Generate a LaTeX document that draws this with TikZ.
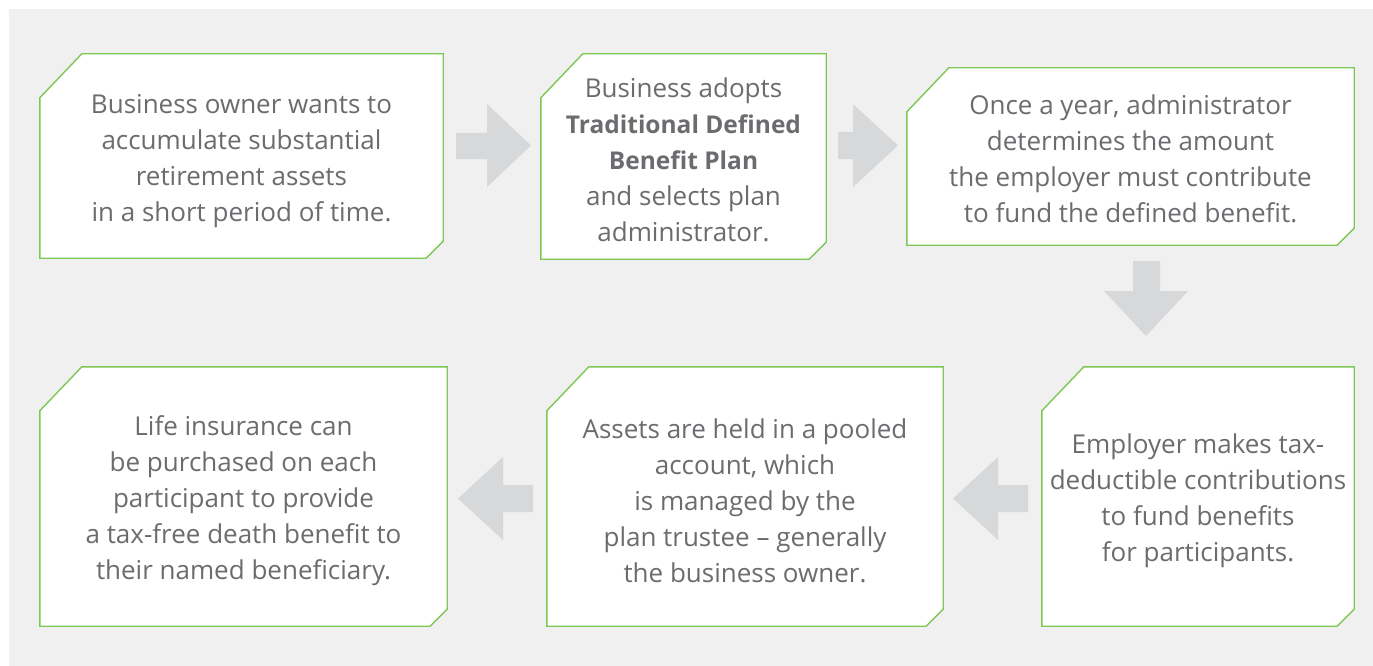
\documentclass[tikz,border=0pt]{standalone}
\usepackage{fontspec}
\setmainfont{Open Sans}
\definecolor{panel}{HTML}{F0F0F0}
\definecolor{edge}{HTML}{7DC855}
\definecolor{ink}{HTML}{6B6C6F}
\definecolor{arrowgray}{HTML}{D7D8DA}

% chamfered outline around a named box: large cut top-left, small cut bottom-right
\newcommand\chamferedoutline[1]{%
  \draw[boxline] ([yshift=-44pt]#1.north west) -- ([xshift=42pt]#1.north west)
    -- (#1.north east) -- ([yshift=17pt]#1.south east)
    -- ([xshift=-17pt]#1.south east) -- (#1.south west) -- cycle;}
\newcommand\planname[1]{{\fontsize{24.5}{36}\selectfont\bfseries #1}}

\tikzset{
  stepbox/.style={inner sep=0pt, align=center, text=ink,
    font=\fontsize{26}{36}\selectfont},
  boxline/.style={draw=edge, fill=white, line width=1.4pt, line join=miter},
  blockarrow/.style={fill=arrowgray, draw=none},
}

\begin{document}
\begin{tikzpicture}[x=1pt, y=-1pt]
  \useasboundingbox (0,0) rectangle (1373,666);
  \fill[panel] (9,9) rectangle (1373,666);

  % box frames
  \node[stepbox, minimum width=403pt, minimum height=204pt] (own) at (241.5,156) {};
  \node[stepbox, minimum width=285pt, minimum height=205pt] (adopt) at (683.5,156.5) {};
  \node[stepbox, minimum width=447pt, minimum height=177pt] (year) at (1130.5,156.5) {};
  \node[stepbox, minimum width=312pt, minimum height=259pt] (contrib) at (1198,496.5) {};
  \node[stepbox, minimum width=396pt, minimum height=259pt] (pool) at (745,496.5) {};
  \node[stepbox, minimum width=407pt, minimum height=259pt] (life) at (243.5,496.5) {};

  \chamferedoutline{own}
  \chamferedoutline{adopt}
  \chamferedoutline{year}
  \chamferedoutline{contrib}
  \chamferedoutline{pool}
  \chamferedoutline{life}

  % texts
  \node[stepbox] (owntext) at ([yshift=-5pt]own.center) {Business owner wants to\\accumulate substantial\\retirement assets\\in a short period of time.};
  \node[stepbox] (adopttext) at ([yshift=-3pt]adopt.center) {Business adopts\\\planname{Traditional Defined}\\\planname{Benefit Plan}\\and selects plan\\administrator.};
  \node[stepbox] (yeartext) at ([yshift=-2pt]year.center) {Once a year, administrator\\determines the amount\\the employer must contribute\\to fund the defined benefit.};
  \node[stepbox] (contribtext) at ([yshift=-4pt]contrib.center) {Employer makes tax-\\deductible contributions\\to fund benefits\\for participants.};
  \node[stepbox] (pooltext) at ([yshift=-4pt]pool.center) {Assets are held in a pooled\\account, which\\is managed by the\\plan trustee -- generally\\the business owner.};
  \node[stepbox] (lifetext) at ([yshift=-4pt]life.center) {Life insurance can\\be purchased on each\\participant to provide\\a tax-free death benefit to\\their named beneficiary.};

  % block arrows between the steps
  \fill[blockarrow] (456,133) -- (487,133) -- (487,104) -- (531,145.5) -- (487,187) -- (487,159) -- (456,159) -- cycle;
  \fill[blockarrow] (838,132) -- (853,132) -- (853,104) -- (898,145.5) -- (853,187) -- (853,159) -- (838,159) -- cycle;
  \fill[blockarrow] (1133,261) -- (1160,261) -- (1160,291) -- (1188,291) -- (1146,336) -- (1104,291) -- (1133,291) -- cycle;
  \fill[blockarrow] (1028,485) -- (998,485) -- (998,457) -- (953,498.5) -- (998,540) -- (998,512) -- (1028,512) -- cycle;
  \fill[blockarrow] (533,485) -- (503,485) -- (503,457) -- (458,498.5) -- (503,540) -- (503,512) -- (533,512) -- cycle;
\end{tikzpicture}
\end{document}
